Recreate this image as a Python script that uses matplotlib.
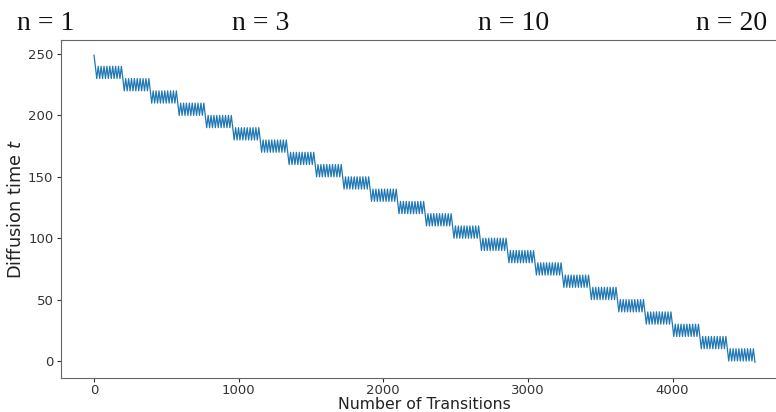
import matplotlib
matplotlib.use('Agg')
import matplotlib.pyplot as plt
import numpy as np

# resampling schedule
t_T = 250                  # first value is t_T - 1 = 249
jump_length = 10           # each zigzag spans 10 steps of t
jump_repeats = 9           # zigzags per plateau
jump_levels = [230, 220, 210, 200, 190, 180, 170, 160, 150, 140, 130, 120,
               110, 100, 90, 80, 70, 60, 50, 40, 30, 20, 10, 0]
panel_titles = ['n = 1', 'n = 3', 'n = 10', 'n = 20']
title_x = [17, 232, 478, 696]   # pixel positions in the composed figure


def build_schedule(t_start, levels, length, repeats):
    jumps = {lvl: repeats for lvl in levels}
    ts = []
    t = t_start
    while t >= 1:
        t = t - 1
        ts.append(t)
        if jumps.get(t, 0) > 0:
            jumps[t] -= 1
            for _ in range(length):
                t = t + 1
                ts.append(t)
    ts.append(-1)
    return np.array(ts)


def main():
    ts = build_schedule(t_T, jump_levels, jump_length, jump_repeats)

    fig = plt.figure(figsize=(7.76, 4.12), dpi=100)
    # right side of the axes runs off the picture, like the cropped original
    ax = fig.add_axes([61 / 776, 0.0835, 727 / 776, 0.8197])
    ax.plot(np.arange(len(ts)), ts, color='#1f77b4', linewidth=0.9)

    ax.set_xticks([0, 1000, 2000, 3000, 4000])
    ax.set_yticks([0, 50, 100, 150, 200, 250])
    ax.tick_params(labelsize=9.5, colors='#333333', length=3, pad=2.5)
    ax.tick_params(axis='x', pad=1.5)
    for sp in ax.spines.values():
        sp.set_color('#666666')
    ax.spines['right'].set_visible(False)
    ax.set_xlabel('Number of Transitions', fontsize=11.3, color='#222222', labelpad=0)
    ax.set_ylabel('Diffusion time $t$', fontsize=12.8, color='#222222', labelpad=2)

    for label, px in zip(panel_titles, title_x):
        fig.text(px / 776, 1 - 30 / 412, label, fontsize=20,
                 family=['Liberation Serif', 'DejaVu Serif'], color='#111111',
                 ha='left', va='baseline')

    fig.savefig('out.png', dpi=100)


if __name__ == '__main__':
    main()
